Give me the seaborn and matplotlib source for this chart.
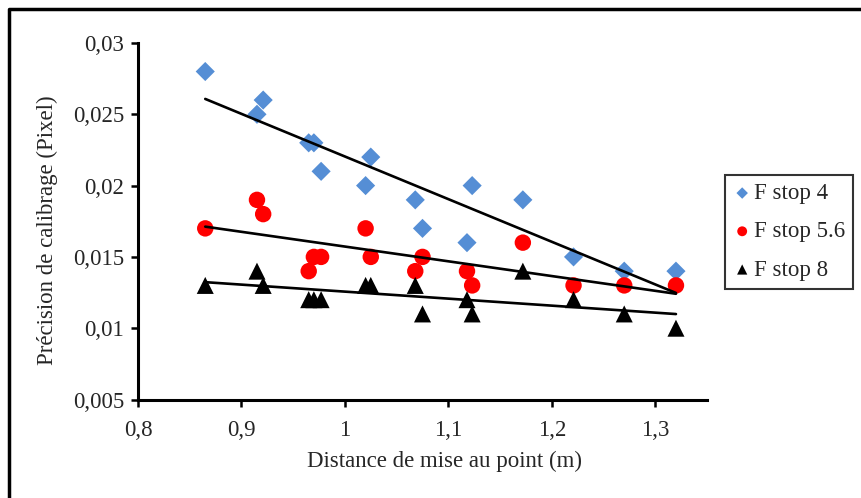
import numpy as np
import pandas as pd
import matplotlib
matplotlib.use("Agg")
import matplotlib.pyplot as plt
from matplotlib.lines import Line2D
from matplotlib.ticker import FuncFormatter, MultipleLocator
import seaborn as sns

# distances (m)
distance = [0.865, 0.915, 0.921, 0.965, 0.970, 0.977, 1.020, 1.025,
            1.068, 1.075, 1.118, 1.123, 1.172, 1.221, 1.270, 1.320]

# précision de calibrage (pixel)
fstop4 = [0.028, 0.025, 0.026, 0.023, 0.023, 0.021, 0.020, 0.022,
          0.019, 0.017, 0.016, 0.020, 0.019, 0.015, 0.014, 0.014]
fstop56 = [0.017, 0.019, 0.018, 0.014, 0.015, 0.015, 0.017, 0.015,
           0.014, 0.015, 0.014, 0.013, 0.016, 0.013, 0.013, 0.013]
fstop8 = [0.013, 0.014, 0.013, 0.012, 0.012, 0.012, 0.013, 0.013,
          0.013, 0.011, 0.012, 0.011, 0.014, 0.012, 0.011, 0.010]

series = ["F stop 4", "F stop 5.6", "F stop 8"]
couleurs = {"F stop 4": "#558ED5", "F stop 5.6": "#FF0000", "F stop 8": "#000000"}
marqueurs = {"F stop 4": "D", "F stop 5.6": "o", "F stop 8": "^"}
tailles = {"F stop 4": 95, "F stop 5.6": 140, "F stop 8": 150}

df = pd.DataFrame({
    "distance": distance * 3,
    "precision": fstop4 + fstop56 + fstop8,
    "serie": [s for s in series for _ in distance],
})

sns.set_style("white")
plt.rcParams["font.family"] = ["Liberation Serif", "DejaVu Serif"]
fs = 16.5

fig = plt.figure(figsize=(8.62, 4.98), dpi=100)
ax = fig.add_axes([138 / 862, 1 - 399.5 / 498, (707 - 138) / 862, (399.5 - 43) / 498])

for s in series:
    d = df[df["serie"] == s]
    sns.scatterplot(data=d, x="distance", y="precision", color=couleurs[s],
                    marker=marqueurs[s], s=tailles[s], edgecolor="none",
                    label=s, ax=ax, zorder=3)
    # courbe de tendance linéaire
    sns.regplot(data=d, x="distance", y="precision", scatter=False, ci=None,
                truncate=True, color="black", line_kws={"lw": 1.9, "zorder": 4},
                ax=ax)

ax.set_xlim(0.8, 1.35)
ax.set_ylim(0.005, 0.03)
ax.xaxis.set_major_locator(MultipleLocator(0.1))
ax.yaxis.set_major_locator(MultipleLocator(0.005))
virgule = FuncFormatter(lambda v, p: ("%g" % round(v, 4)).replace(".", ","))
ax.xaxis.set_major_formatter(virgule)
ax.yaxis.set_major_formatter(virgule)

for c in ["top", "right"]:
    ax.spines[c].set_visible(False)
for c in ["left", "bottom"]:
    ax.spines[c].set_linewidth(2.2)
    ax.spines[c].set_color("black")
ax.tick_params(direction="out", length=5, width=1.8, color="black",
               labelsize=fs, left=True, bottom=True)
ax.tick_params(axis="x", pad=10)
ax.tick_params(axis="y", pad=5)

ax.set_xlabel("Distance de mise au point (m)", fontsize=fs)
ax.set_ylabel("Précision de calibrage (Pixel)", fontsize=fs)
ax.xaxis.set_label_coords(0.538, -0.145)
ax.yaxis.set_label_coords(-0.141, 0.475)

leg = ax.legend(loc="upper left", bbox_to_anchor=(725 / 862, 1 - 175 / 498),
                bbox_transform=fig.transFigure, borderaxespad=0, fancybox=False,
                frameon=True, fontsize=fs, handletextpad=0.1, handlelength=0.8,
                labelspacing=0.75, borderpad=0.35, markerscale=0.6)
leg.get_frame().set_edgecolor("black")
leg.get_frame().set_linewidth(1.5)

# cadre extérieur (gauche et haut)
fig.add_artist(Line2D([9 / 862, 9 / 862, 1], [0, 1 - 9 / 498, 1 - 9 / 498],
                      transform=fig.transFigure, color="black", lw=2.5))

fig.savefig("out.png", dpi=100)
